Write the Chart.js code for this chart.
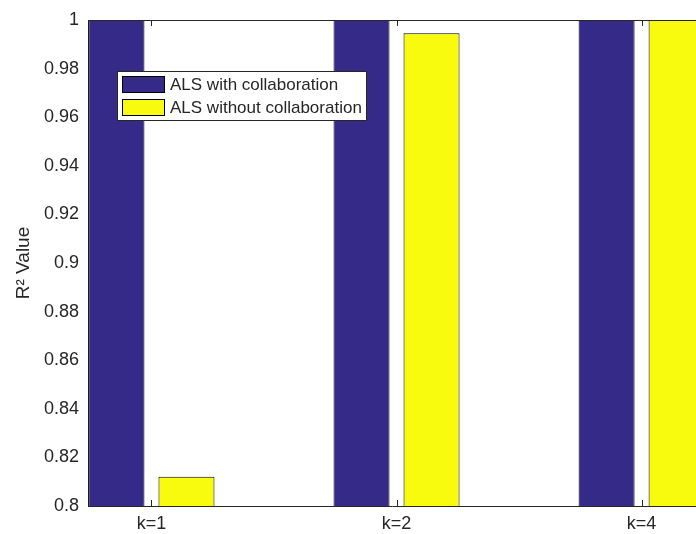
<!DOCTYPE html>
<html>
<head>
<meta charset="utf-8">
<script src="https://cdn.jsdelivr.net/npm/chart.js@4"></script>
<style>
  html, body { margin: 0; padding: 0; background: #fff; }
  #wrap { width: 696px; height: 534px; position: relative; }
</style>
</head>
<body>
<div id="wrap"><canvas id="r2Chart"></canvas></div>
<script>
// values (bars above 1 are cut by the axis)
const categories = ['k=1', 'k=2', 'k=4'];
const withCollab = [1, 1, 1];
const withoutCollab = [0.812, 0.9945, 1];
const seriesNames = ['ALS with collaboration', 'ALS without collaboration'];
const seriesColors = ['#352a87', '#f9fb0e'];

const axisColor = '#262626';
const fontFamily = '"Liberation Sans", Arial, sans-serif';

function toPoints(values) {
    return values.map((v, i) => ({ x: i + 1, y: v }));
}

// box line on top and small inward ticks, like the matlab axes
const boxPlugin = {
    id: 'boxPlugin',
    afterDatasetsDraw(chart) {
        let ctx = chart.ctx;
        let area = chart.chartArea;
        let xs = chart.scales.x;
        ctx.save();
        ctx.strokeStyle = axisColor;
        ctx.lineWidth = 1;
        ctx.beginPath();
        ctx.moveTo(area.left, area.top + 0.5);
        ctx.lineTo(area.right, area.top + 0.5);
        for (let i = 0; i < categories.length; i++) {
            let px = Math.round(xs.getPixelForValue(i + 1)) + 0.5;
            ctx.moveTo(px, area.bottom);
            ctx.lineTo(px, area.bottom - 6);
            ctx.moveTo(px, area.top);
            ctx.lineTo(px, area.top + 6);
        }
        ctx.stroke();
        ctx.restore();
    }
};

// legend box drawn inside the axes
const legendPlugin = {
    id: 'boxLegend',
    afterDraw(chart) {
        let ctx = chart.ctx;
        let left = 117, top = 71, w = 250, h = 50;
        ctx.save();
        ctx.fillStyle = '#fff';
        ctx.fillRect(left, top, w, h);
        ctx.strokeStyle = axisColor;
        ctx.lineWidth = 1;
        ctx.strokeRect(left + 0.5, top + 0.5, w - 1, h - 1);
        ctx.font = '17px ' + fontFamily;
        ctx.textBaseline = 'middle';
        chart.data.datasets.forEach((ds, i) => {
            let y = top + 5 + i * 23;
            ctx.fillStyle = ds.backgroundColor;
            ctx.fillRect(left + 5, y, 43, 17);
            ctx.strokeStyle = '#000';
            ctx.strokeRect(left + 5.5, y + 0.5, 42, 16);
            ctx.fillStyle = axisColor;
            ctx.fillText(ds.label, left + 53, y + 9);
        });
        ctx.restore();
    }
};

let ctx = document.getElementById('r2Chart').getContext('2d');
new Chart(ctx, {
    type: 'bar',
    data: {
        datasets: [
            {
                label: seriesNames[0],
                data: toPoints(withCollab),
                backgroundColor: seriesColors[0],
                borderColor: '#000',
                borderWidth: 1
            },
            {
                label: seriesNames[1],
                data: toPoints(withoutCollab),
                backgroundColor: seriesColors[1],
                borderColor: '#000',
                borderWidth: 1
            }
        ]
    },
    options: {
        responsive: true,
        maintainAspectRatio: false,
        animation: false,
        categoryPercentage: 0.5714,
        barPercentage: 0.8,
        layout: { padding: { top: 20, right: 0, left: 0, bottom: 0 } },
        plugins: {
            legend: { display: false },
            tooltip: { enabled: false }
        },
        scales: {
            x: {
                type: 'linear',
                offset: false,
                min: 0.741,
                max: 3.222,
                grid: { display: false, drawTicks: false },
                border: { display: true, color: axisColor, width: 1 },
                afterBuildTicks(scale) {
                    scale.ticks = categories.map((c, i) => ({ value: i + 1 }));
                },
                afterFit(scale) { scale.height = 28; },
                ticks: {
                    padding: 7,
                    color: axisColor,
                    font: { family: fontFamily, size: 18 },
                    callback: (v) => categories[v - 1] || ''
                }
            },
            y: {
                min: 0.8,
                max: 1,
                grid: { display: false, drawTicks: false },
                border: { display: true, color: axisColor, width: 1 },
                afterFit(scale) { scale.width = 88; },
                ticks: {
                    stepSize: 0.02,
                    padding: 9,
                    color: axisColor,
                    font: { family: fontFamily, size: 18 },
                    callback: (v) => String(Number(v.toFixed(2)))
                },
                title: {
                    display: true,
                    text: 'R\u00B2 Value',
                    color: axisColor,
                    font: { family: fontFamily, size: 19 },
                    padding: { top: 12, bottom: 0 }
                }
            }
        }
    },
    plugins: [boxPlugin, legendPlugin]
});
</script>
</body>
</html>
